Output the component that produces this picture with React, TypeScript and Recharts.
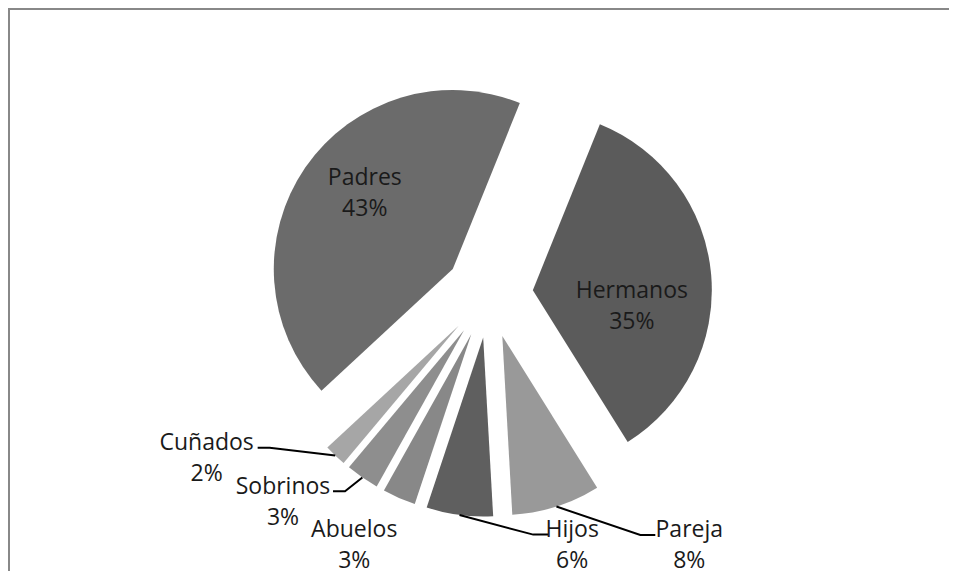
import React from 'react';
import { PieChart, Pie, Sector } from 'recharts';

const categories = ['Hermanos', 'Pareja', 'Hijos', 'Abuelos', 'Sobrinos', 'Cuñados', 'Padres'];
const shares = [35, 8, 6, 3, 3, 2, 43];
const sliceColors = ['#5b5b5b', '#999999', '#5f5f5f', '#888888', '#8e8e8e', '#a6a6a6', '#6b6b6b'];

const data = categories.map((name, i) => ({ name, value: shares[i] }));

const RADIAN = Math.PI / 180;
const EXPLODE = 44;
const FONT = '"Open Sans", sans-serif';

// where the data labels sit, relative to the tip of the exploded slice
// line = elbow x,y then end x,y of the leader line
const labelLayout: Record<string, { tx: number; ty: number; line?: number[] }> = {
  Hermanos: { tx: 99, ty: 8 },
  Pareja: { tx: 187, ty: 201, line: [138, 199, 153, 199] },
  Hijos: { tx: 89, ty: 199, line: [50, 197, 65, 197] },
  Abuelos: { tx: -117, ty: 203 },
  Sobrinos: { tx: -181, ty: 164, line: [-119, 161, -131, 161] },
  Cuñados: { tx: -252, ty: 124, line: [-189, 122, -201, 122] },
  Padres: { tx: -88, ty: -84 },
};

const renderSlice = (props: any) => {
  const { cx, cy, midAngle, innerRadius, outerRadius, startAngle, endAngle, index, percent } = props;
  const name = props.payload?.name ?? props.name;
  const ox = cx + EXPLODE * Math.cos(-midAngle * RADIAN);
  const oy = cy + EXPLODE * Math.sin(-midAngle * RADIAN);
  const ax = ox + outerRadius * Math.cos(-midAngle * RADIAN);
  const ay = oy + outerRadius * Math.sin(-midAngle * RADIAN);
  const lay = labelLayout[name];
  const tx = ox + lay.tx;
  const ty = oy + lay.ty;
  return (
    <g key={`slice-${index}`}>
      <Sector
        cx={ox}
        cy={oy}
        innerRadius={innerRadius}
        outerRadius={outerRadius}
        startAngle={startAngle}
        endAngle={endAngle}
        fill={sliceColors[index]}
        stroke="none"
      />
      {lay.line && (
        <polyline
          points={`${ax},${ay} ${ox + lay.line[0]},${oy + lay.line[1]} ${ox + lay.line[2]},${oy + lay.line[3]}`}
          fill="none"
          stroke="#000"
          strokeWidth={2}
        />
      )}
      <text x={tx} y={ty} textAnchor="middle" fontFamily={FONT} fontSize={23} fill="#1a1a1a">
        <tspan x={tx}>{name}</tspan>
        <tspan x={tx} dy={31}>{`${Math.round(percent * 100)}%`}</tspan>
      </text>
    </g>
  );
};

export default function App() {
  return (
    <div
      style={{
        width: 947,
        height: 569,
        marginBottom: -8,
        borderTop: '2px solid #888',
        borderLeft: '2px solid #888',
        background: '#fff',
      }}
    >
      <PieChart width={947} height={569} margin={{ top: 0, right: 0, bottom: 0, left: 0 }}>
        <Pie
          data={data}
          dataKey="value"
          nameKey="name"
          cx={479}
          cy={284}
          innerRadius={0}
          outerRadius={179}
          startAngle={68}
          endAngle={-292}
          fill="transparent"
          stroke="none"
          label={renderSlice}
          labelLine={false}
          isAnimationActive={false}
        />
      </PieChart>
    </div>
  );
}
